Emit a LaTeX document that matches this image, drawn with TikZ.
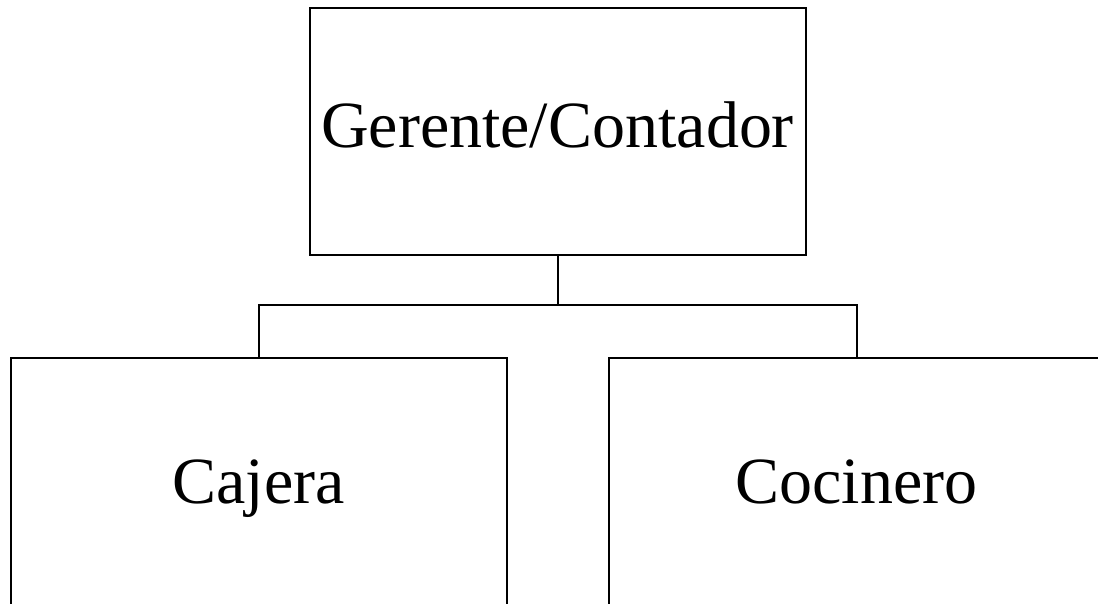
\documentclass[tikz,border=0pt]{standalone}
\usepackage{fontspec}
\setmainfont{Liberation Serif}
\begin{document}
\begin{tikzpicture}[x=1pt,y=-1pt]
		\tikzstyle{box}=[rectangle,draw=black,line width=2pt,minimum width=496pt,minimum height=247pt,inner sep=0pt,text height=44pt,text depth=0pt,font=\fontsize{66}{80}\selectfont]
		\tikzstyle{edge}=[draw=black,line width=2pt]

		 \useasboundingbox (0,0) rectangle (1098,603);
		 \clip (0,0) rectangle (1098,603);

		 \node [box,text depth=13pt] (gerente) at (557.5,131.5) {Gerente/Contador};
		 \node [box] (cajera) at (258.5,481) {Cajera};
		 \node [box] (cocinero) at (856.5,481) {Cocinero};
		 \coordinate (split) at (557.5,305);

		 \path[edge] (gerente.south) -- (split);
		 \path[edge] (split) -| (cajera.north);
		 \path[edge] (split) -| (cocinero.north);

	\end{tikzpicture}
\end{document}
